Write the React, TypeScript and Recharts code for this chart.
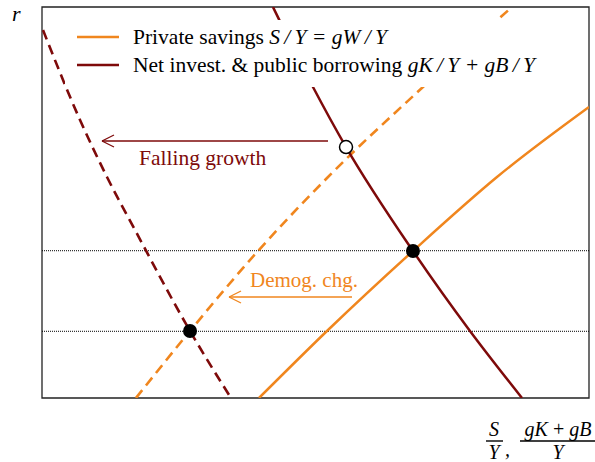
import React from 'react';
import {
  ComposedChart,
  Line,
  XAxis,
  YAxis,
  ReferenceLine,
  ReferenceArea,
  ReferenceDot,
  Scatter,
  Legend,
} from 'recharts';

// Schematic units: x = S/Y, (gK+gB)/Y ; y = r, both on 0..100
const savingsInitial = [
  { x: 39.67, y: 0 },
  { x: 52.1, y: 17.14 },
  { x: 67.82, y: 37.6 },
  { x: 83.18, y: 56.52 },
  { x: 100, y: 74.42 },
];
const savingsShifted = [
  { x: 17.18, y: 0 },
  { x: 27.06, y: 17.14 },
  { x: 39.49, y: 37.6 },
  { x: 52.29, y: 56.52 },
  { x: 69.65, y: 79.54 },
  { x: 85.92, y: 100 },
];
const investInitial = [
  { x: 42.23, y: 100 },
  { x: 49.54, y: 79.54 },
  { x: 55.58, y: 64.19 },
  { x: 67.82, y: 37.6 },
  { x: 78.24, y: 17.14 },
  { x: 87.75, y: 0 },
];
const investShifted = [
  { x: 0.18, y: 94.12 },
  { x: 6.95, y: 71.1 },
  { x: 11.88, y: 56.52 },
  { x: 17.0, y: 42.97 },
  { x: 27.06, y: 17.14 },
  { x: 34.55, y: 0 },
];
const equilibria = [
  { x: 67.82, y: 37.6 },
  { x: 27.06, y: 17.14 },
];
const intermediatePoint = [{ x: 55.58, y: 64.19 }];
const rateLevels = [37.67, 17.06];

const legendLabels = ['Private savings', 'Net invest. & public borrowing'];
const legendMath = ['S\u2009/\u2009Y = gW\u2009/\u2009Y', 'gK\u2009/\u2009Y + gB\u2009/\u2009Y'];

const growthArrow = { from: 52.29, to: 10.97, y: 65.73 };
const demogArrow = { from: 56.67, to: 34.19, y: 25.83 };
const growthText = { x: 17.73, y: 59.59, label: 'Falling growth' };
const demogText = { x: 38.03, y: 28.47, label: 'Demog. chg.' };

const ORANGE = '#F0861E';
const DARKRED = '#7E0A0A';
const FONT = '"Liberation Serif", "DejaVu Serif", serif';

const colors = [ORANGE, DARKRED];

const headX = 2.19;
const headY = 1.53;

const renderLegend = () => (
  <div
    style={{
      position: 'relative',
      width: 480,
      height: 67,
      background: '#fff',
      fontFamily: FONT,
      fontSize: 21.5,
      color: '#000',
    }}
  >
    {legendLabels.map((label, i) => (
      <div
        key={label}
        style={{
          position: 'absolute',
          left: 12,
          top: 3 + i * 28,
          height: 28,
          display: 'flex',
          alignItems: 'center',
          whiteSpace: 'nowrap',
        }}
      >
        <svg width={42} height={4} style={{ display: 'block' }}>
          <line x1={0} y1={2} x2={42} y2={2} stroke={colors[i]} strokeWidth={2.5} />
        </svg>
        <span style={{ marginLeft: 14 }}>
          {label} <i>{legendMath[i]}</i>
        </span>
      </div>
    ))}
  </div>
);

const arrow = (a: { from: number; to: number; y: number }, color: string, key: string) => [
  <ReferenceLine
    key={key + 'shaft'}
    segment={[{ x: a.from, y: a.y }, { x: a.to, y: a.y }]}
    stroke={color}
    strokeWidth={1.3}
  />,
  <ReferenceLine
    key={key + 'h1'}
    segment={[{ x: a.to, y: a.y }, { x: a.to + headX, y: a.y + headY }]}
    stroke={color}
    strokeWidth={1.3}
  />,
  <ReferenceLine
    key={key + 'h2'}
    segment={[{ x: a.to, y: a.y }, { x: a.to + headX, y: a.y - headY }]}
    stroke={color}
    strokeWidth={1.3}
  />,
];

export default function App() {
  return (
    <div style={{ position: 'absolute', left: 0, top: 0, width: 595, height: 462 }}>
      <ComposedChart
        width={595}
        height={462}
        margin={{ top: 7, right: 6, bottom: 64, left: 42 }}
      >
        <XAxis type="number" dataKey="x" domain={[0, 100]} hide allowDataOverflow />
        <YAxis type="number" dataKey="y" domain={[0, 100]} hide allowDataOverflow />
        <ReferenceArea
          x1={0}
          x2={100}
          y1={0}
          y2={100}
          fill="none"
          fillOpacity={0}
          stroke="#222"
          strokeWidth={1.3}
        />
        {rateLevels.map((r) => (
          <ReferenceLine key={r} y={r} stroke="#000" strokeWidth={1} strokeDasharray="1 1" />
        ))}
        <Line
          data={investShifted}
          dataKey="y"
          type="monotone"
          stroke={DARKRED}
          strokeWidth={2.6}
          strokeDasharray="10 6"
          dot={false}
          isAnimationActive={false}
        />
        <Line
          data={savingsShifted}
          dataKey="y"
          type="monotone"
          stroke={ORANGE}
          strokeWidth={2.6}
          strokeDasharray="10 6"
          dot={false}
          isAnimationActive={false}
        />
        <Line
          data={investInitial}
          dataKey="y"
          type="monotone"
          stroke={DARKRED}
          strokeWidth={2.5}
          dot={false}
          isAnimationActive={false}
        />
        <Line
          data={savingsInitial}
          dataKey="y"
          type="monotone"
          stroke={ORANGE}
          strokeWidth={2.5}
          dot={false}
          isAnimationActive={false}
        />
        {arrow(growthArrow, DARKRED, 'g')}
        {arrow(demogArrow, ORANGE, 'd')}
        <ReferenceDot
          x={growthText.x}
          y={growthText.y}
          shape={(p: any) => (
            <text x={p.cx} y={p.cy} fill={DARKRED} fontFamily={FONT} fontSize={21.5}>
              {growthText.label}
            </text>
          )}
        />
        <ReferenceDot
          x={demogText.x}
          y={demogText.y}
          shape={(p: any) => (
            <text x={p.cx} y={p.cy} fill={ORANGE} fontFamily={FONT} fontSize={21}>
              {demogText.label}
            </text>
          )}
        />
        <Scatter
          data={equilibria}
          dataKey="y"
          isAnimationActive={false}
          shape={(p: any) => <circle cx={p.cx} cy={p.cy} r={7} fill="#000" />}
        />
        <Scatter
          data={intermediatePoint}
          dataKey="y"
          isAnimationActive={false}
          shape={(p: any) => (
            <circle cx={p.cx} cy={p.cy} r={6.5} fill="#fff" stroke="#000" strokeWidth={1.5} />
          )}
        />
        <ReferenceDot
          x={0}
          y={100}
          ifOverflow="visible"
          shape={(p: any) => (
            <text x={p.cx - 30} y={p.cy + 14} fontFamily={FONT} fontStyle="italic" fontSize={22} fill="#000">
              r
            </text>
          )}
        />
        <ReferenceDot
          x={100}
          y={0}
          ifOverflow="visible"
          shape={(p: any) => (
            <g fontFamily={FONT} fontStyle="italic" fontSize={20} fill="#000">
              <text x={p.cx - 95} y={p.cy + 38} textAnchor="middle">S</text>
              <line x1={p.cx - 103} x2={p.cx - 86} y1={p.cy + 43} y2={p.cy + 43} stroke="#000" strokeWidth={1.4} />
              <text x={p.cx - 95} y={p.cy + 61} textAnchor="middle">Y</text>
              <text x={p.cx - 84} y={p.cy + 58}>,</text>
              <text x={p.cx - 31} y={p.cy + 38} textAnchor="middle">gK{'\u2009'}+{'\u2009'}gB</text>
              <line x1={p.cx - 69} x2={p.cx + 10} y1={p.cy + 43} y2={p.cy + 43} stroke="#000" strokeWidth={1.4} />
              <text x={p.cx - 31} y={p.cy + 61} textAnchor="middle">Y</text>
            </g>
          )}
        />
        <Legend
          layout="vertical"
          align="center"
          verticalAlign="middle"
          content={renderLegend}
          wrapperStyle={{ left: 65, top: 20, width: 480, height: 67 }}
        />
      </ComposedChart>
    </div>
  );
}
